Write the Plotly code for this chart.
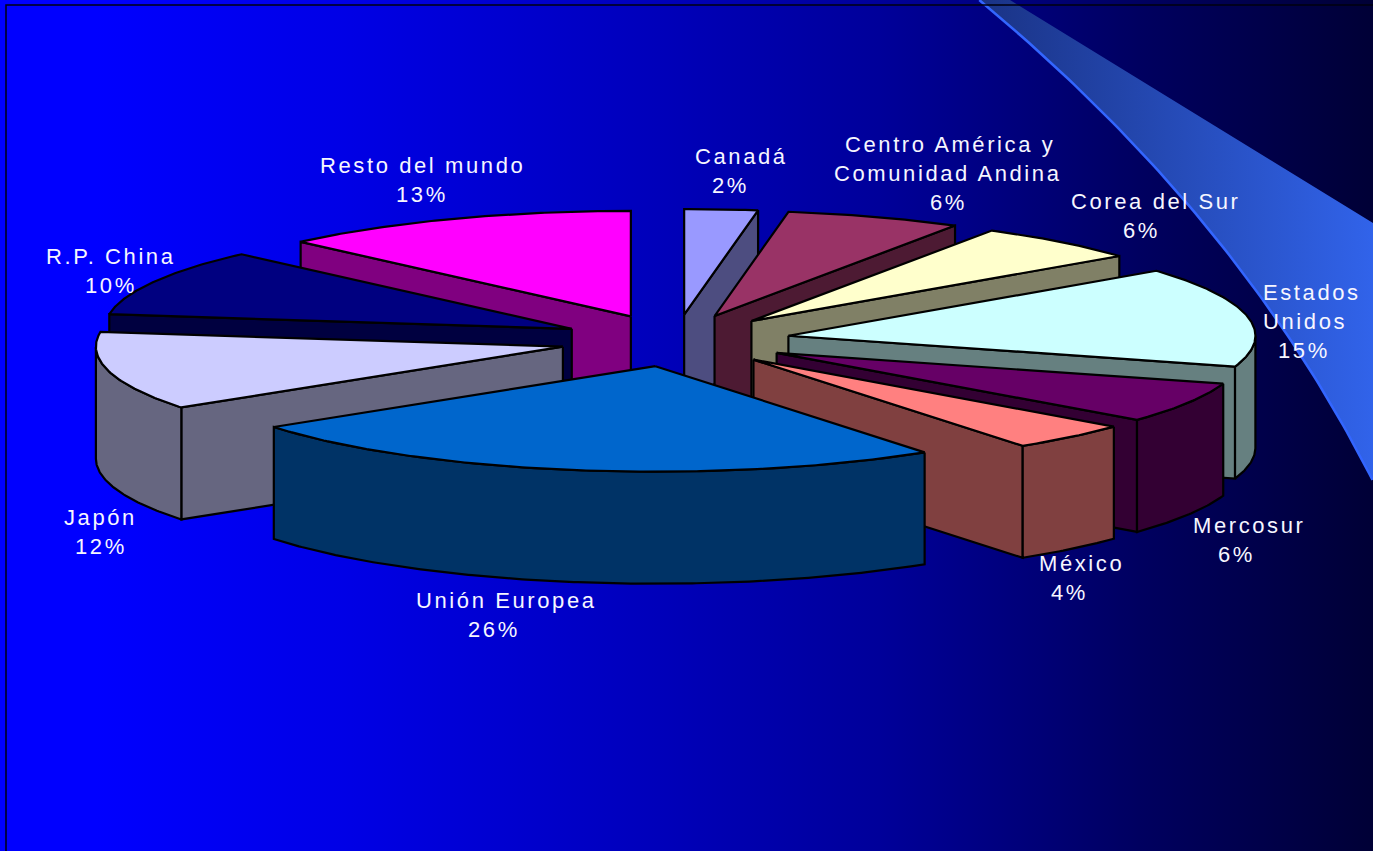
import numpy as np
import plotly.graph_objects as go

# ---- data ----
categories = ["Canadá", "Centro América y\nComunidad Andina", "Corea del Sur", "Estados\nUnidos",
              "Mercosur", "México", "Unión Europea", "Japón", "R.P. China", "Resto del mundo"]
percent_labels = [2, 6, 6, 15, 6, 4, 26, 12, 10, 13]
# share of the turn each drawn slice takes in the perspective view
slice_shares = [2.53, 6.08, 5.83, 15.28, 6.25, 4.25, 25.0, 12.0, 10.28, 12.5]
top_colors = ["#9999FF", "#993366", "#FFFFCC", "#CCFFFF", "#660066",
              "#FF8080", "#0066CC", "#CCCCFF", "#000080", "#FF00FF"]
side_colors = ["#4D4D80", "#4D1A33", "#808066", "#668080", "#330033",
               "#804040", "#003366", "#666680", "#000040", "#800080"]
draw_order = [0, 1, 2, 3, 4, 5, 9, 8, 7, 6]

# left edge and vertical centre of every text line, one list per category
label_lines = [
    [(694, 156), (711, 185)],
    [(844, 144), (833, 173), (929, 202)],
    [(1070, 201), (1122, 230)],
    [(1262, 292), (1262, 321), (1277, 350)],
    [(1192, 525), (1217, 554)],
    [(1038, 563), (1050, 592)],
    [(415, 600), (467, 629)],
    [(63, 517), (74, 546)],
    [(45, 256), (84, 285)],
    [(319, 165), (395, 194)],
]

W, H = 1373, 851
CX, CY, RX, RY, DEPTH, EXPLODE = 675, 340.5, 467, 105.5, 112, 0.247
EDGE = dict(color="#000000", width=2.2)

fig = go.Figure()


def poly(xs, ys, fill, line=EDGE):
    fig.add_trace(go.Scatter(x=list(xs), y=list(ys), mode="lines", fill="toself",
                             fillcolor=fill, line=line, hoverinfo="skip", showlegend=False))


# background
fig.add_trace(go.Scatter(
    x=[0, W, W, 0, 0], y=[0, 0, H, H, 0], mode="lines", fill="toself", line=dict(width=0),
    fillgradient=dict(type="horizontal", colorscale=[
        [0, "#0000FF"], [0.07, "#0000FF"], [0.25, "#0000E6"], [0.45, "#0000C0"],
        [0.64, "#00009A"], [0.83, "#000060"], [1, "#000036"]]),
    hoverinfo="skip", showlegend=False))

# decorative band, top right
curve_y = np.array([0, 63, 148, 250, 305, 368, 480])
curve_x = np.array([980, 1050, 1137, 1227, 1267, 1307, 1373])
cy_dense = np.linspace(0, 480, 80)
cx_dense = np.polyval(np.polyfit(curve_y, curve_x, 3), cy_dense)
fig.add_trace(go.Scatter(
    x=[1010, W, W] + list(cx_dense[::-1]) + [1010],
    y=[0, 223, 480] + list(cy_dense[::-1]) + [0],
    mode="lines", fill="toself", line=dict(width=0),
    fillgradient=dict(type="horizontal", colorscale=[[0, "#1A3385"], [1, "#3163EA"]]),
    hoverinfo="skip", showlegend=False))
fig.add_trace(go.Scatter(x=cx_dense, y=cy_dense, mode="lines", line=dict(color="#3366FF", width=2.5),
                         hoverinfo="skip", showlegend=False))
# frame
fig.add_trace(go.Scatter(x=[W, 6, 6], y=[5, 5, H], mode="lines", line=dict(color="#00000F", width=1.5),
                         hoverinfo="skip", showlegend=False))

# pie
bounds = np.concatenate([[0], np.cumsum(slice_shares)]) / np.sum(slice_shares) * 2 * np.pi
for i in draw_order:
    a0, a1 = bounds[i], bounds[i + 1]
    mid = (a0 + a1) / 2
    tx = CX + EXPLODE * RX * np.sin(mid)
    ty = CY - EXPLODE * RY * np.cos(mid)
    th = np.linspace(a0, a1, max(int(np.degrees(a1 - a0)) * 2, 4))
    ax = tx + RX * np.sin(th)
    ay = ty - RY * np.cos(th)

    # side walls that face the viewer
    if ax[0] < tx - 0.5:
        poly([tx, ax[0], ax[0], tx, tx], [ty, ay[0], ay[0] + DEPTH, ty + DEPTH, ty], side_colors[i])
    if ax[-1] > tx + 0.5:
        poly([tx, ax[-1], ax[-1], tx, tx], [ty, ay[-1], ay[-1] + DEPTH, ty + DEPTH, ty], side_colors[i])
    vis = (th >= np.pi / 2) & (th <= 3 * np.pi / 2)
    if vis.sum() > 1:
        vx, vy = ax[vis], ay[vis]
        poly(list(vx) + list(vx[::-1]) + [vx[0]],
             list(vy) + list(vy[::-1] + DEPTH) + [vy[0]], side_colors[i])
    # top face
    poly([tx] + list(ax) + [tx], [ty] + list(ay) + [ty], top_colors[i])

# labels
annotations = []
for name, pct, pos in zip(categories, percent_labels, label_lines):
    for text, (x, y) in zip(name.split("\n") + [f"{pct}%"], pos):
        annotations.append(dict(x=x, y=y, text=text, showarrow=False, xanchor="left", yanchor="middle",
                                align="left", borderpad=0,
                                font=dict(family="Liberation Sans", size=22, color="#F6F6FF")))

fig.update_layout(
    width=W, height=H, margin=dict(l=0, r=0, t=0, b=0), autosize=False,
    paper_bgcolor="#0000A0", plot_bgcolor="rgba(0,0,0,0)", showlegend=False,
    xaxis=dict(range=[0, W], visible=False, fixedrange=True),
    yaxis=dict(range=[H, 0], visible=False, fixedrange=True),
    annotations=annotations,
)

post = """
document.documentElement.style.margin='0';document.body.style.margin='0';document.body.style.overflow='hidden';
document.querySelectorAll('.annotation-text').forEach(function(t){t.style.letterSpacing='2.6px';});
"""
fig.write_html("out.html", post_script=post, config=dict(displayModeBar=False))
